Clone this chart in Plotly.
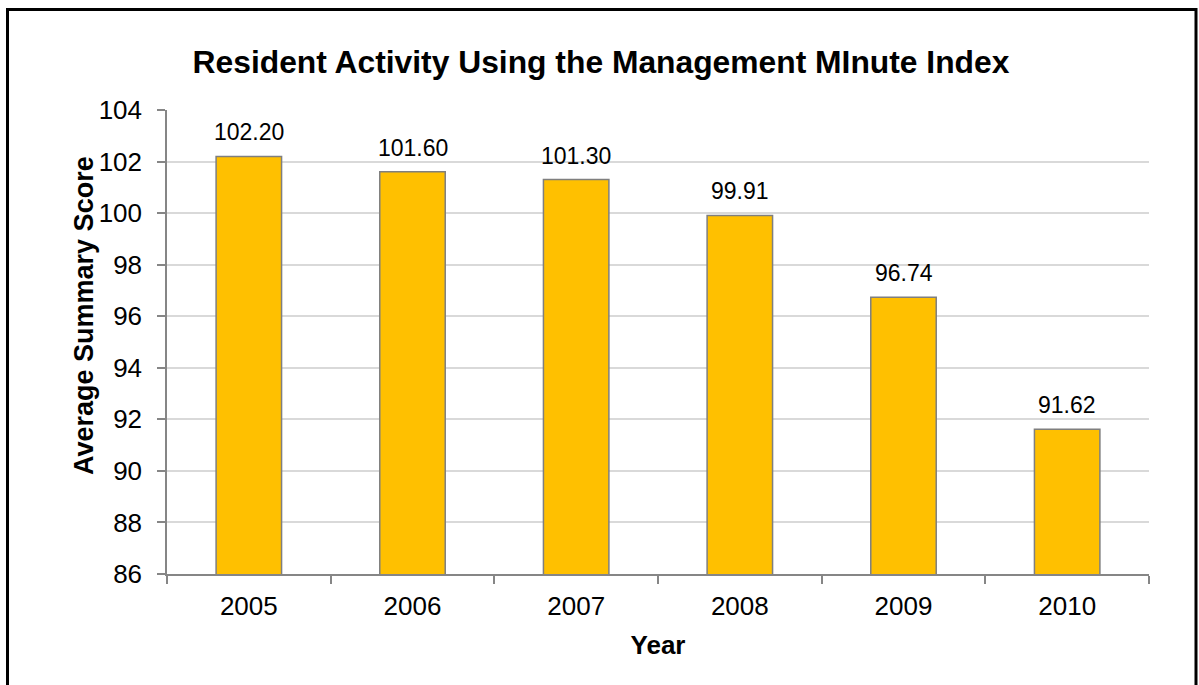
import plotly.graph_objects as go

years = ["2005", "2006", "2007", "2008", "2009", "2010"]
scores = [102.20, 101.60, 101.30, 99.91, 96.74, 91.62]
label_text = ["102.20", "101.60", "101.30", "99.91", "96.74", "91.62"]
y_ticks = [86, 88, 90, 92, 94, 96, 98, 100, 102, 104]

FONT = "Liberation Sans, Arial, sans-serif"
W, H = 1199, 685
# plot area in screenshot pixels: x 167..1149, y 110..574
L, T = 167, 110
R = W - 1149
B = H - 574
pw, ph = W - L - R, H - T - B


def px(xs):
    return (xs - L) / pw


def py(ys):
    return (H - B - ys) / ph


fig = go.Figure()
fig.add_trace(go.Bar(
    x=years, y=scores,
    marker=dict(color="#FFC000", line=dict(color="#7F7F7F", width=1.5)),
    width=0.4,
    hoverinfo="skip",
))

for i, (v, t) in enumerate(zip(scores, label_text)):
    fig.add_annotation(x=i, y=v, text=t, showarrow=False, yanchor="bottom",
                       yshift=9, font=dict(family=FONT, size=23, color="#000000"))

# y axis title as annotation (shifted up like the reference)
fig.add_annotation(xref="paper", yref="paper", x=px(84), y=py(316),
                   text="<b>Average Summary Score</b>", textangle=-90, showarrow=False,
                   xanchor="center", yanchor="middle",
                   font=dict(family=FONT, size=27, color="#000000"))

# outer border
fig.add_shape(type="rect", xref="paper", yref="paper",
              x0=px(7.5), x1=px(1196),
              y0=py(700), y1=py(9.5),
              line=dict(color="#000000", width=3), fillcolor="rgba(0,0,0,0)")

fig.update_layout(
    width=W, height=H,
    margin=dict(l=L, r=R, t=T, b=B),
    paper_bgcolor="white", plot_bgcolor="white",
    showlegend=False,
    title=dict(text="<b>Resident Activity Using the Management MInute Index</b>",
               x=601 / W, xanchor="center", y=1 - 62 / H, yanchor="middle",
               font=dict(family=FONT, size=31.8, color="#000000")),
    font=dict(family=FONT, color="#000000"),
    bargap=0.6,
)

fig.update_xaxes(
    type="category", range=[-0.5, len(years) - 0.5],
    showline=True, linecolor="#868686", linewidth=1.5,
    ticks="outside", tickson="boundaries", ticklen=8, tickcolor="#868686", tickwidth=1.5,
    tickfont=dict(family=FONT, size=26, color="#000000"), tickangle=0,
    ticklabelstandoff=8,
    title=dict(text="<b>Year</b>", font=dict(family=FONT, size=26, color="#000000"), standoff=16),
    showgrid=False,
)
fig.update_yaxes(
    range=[86, 104], tickvals=y_ticks, ticktext=[str(v) for v in y_ticks],
    showline=True, linecolor="#868686", linewidth=1.5,
    ticks="outside", ticklen=8, tickcolor="#868686", tickwidth=1.5,
    tickfont=dict(family=FONT, size=26, color="#000000"),
    ticklabelstandoff=10,
    showgrid=True, gridcolor="#D9D9D9", gridwidth=1.5,
    zeroline=False,
)

fig.write_html("out.html",
               config={"displayModeBar": False},
               post_script="document.body.style.margin='0px';document.body.style.overflow='hidden';")
